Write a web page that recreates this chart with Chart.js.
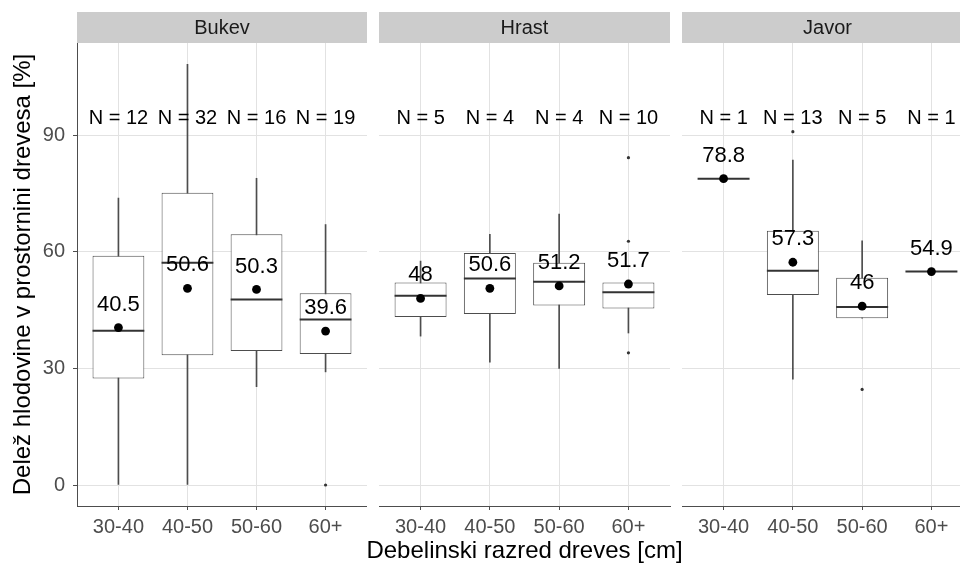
<!DOCTYPE html>
<html>
<head>
<meta charset="utf-8">
<script src="https://cdn.jsdelivr.net/npm/chart.js@4.4.1/dist/chart.umd.min.js"></script>
<style>
  html, body { margin: 0; padding: 0; background: #fff; overflow: hidden; }
  #wrap { position: relative; width: 960px; height: 564px; overflow: hidden; }
  #wrap canvas { position: absolute; top: 0; }
</style>
</head>
<body>
<div id="wrap">
  <canvas id="c1" width="367" height="564" style="left:0px"></canvas>
  <canvas id="c2" width="331" height="564" style="left:359px"></canvas>
  <canvas id="c3" width="291" height="564" style="left:682px"></canvas>
</div>
<script>
const categories = ['30-40', '40-50', '50-60', '60+'];
const yTicks = [0, 30, 60, 90];
const nLabelValue = 94.5;

// Bukev
const bukevN = [12, 32, 16, 19];
const bukevLow = [0, 0, 25.3, 29.1];
const bukevQ1 = [27.4, 33.4, 34.5, 33.7];
const bukevMedian = [39.7, 57.2, 47.7, 42.6];
const bukevQ3 = [59.0, 75.2, 64.5, 49.3];
const bukevHigh = [73.8, 108.2, 78.9, 67.0];
const bukevMean = [40.5, 50.6, 50.3, 39.6];
const bukevOutliers = [[], [], [], [0]];

// Hrast
const hrastN = [5, 4, 4, 10];
const hrastLow = [38.3, 31.6, 30.0, 39.1];
const hrastQ1 = [43.2, 44.0, 46.2, 45.4];
const hrastMedian = [48.7, 53.1, 52.3, 49.6];
const hrastQ3 = [52.1, 59.7, 57.2, 52.1];
const hrastHigh = [57.6, 64.5, 69.7, 52.1];
const hrastMean = [48, 50.6, 51.2, 51.7];
const hrastOutliers = [[], [], [], [84.2, 62.7, 34.0]];

// Javor
const javorN = [1, 13, 5, 1];
const javorLow = [78.8, 27.2, 42.9, 54.9];
const javorQ1 = [78.8, 48.9, 42.9, 54.9];
const javorMedian = [78.8, 55.1, 45.8, 54.9];
const javorQ3 = [78.8, 65.4, 53.3, 54.9];
const javorHigh = [78.8, 83.6, 62.8, 54.9];
const javorMean = [78.8, 57.3, 46, 54.9];
const javorOutliers = [[], [90.9], [24.6], []];

const FONT = '"Liberation Sans", Arial, Helvetica, sans-serif';
const AXIS = '#4d4d4d';
const GRID = '#e2e2e2';
const LINE = '#4d4d4d';

function facetPlugin(name, n, mean, xTitle) {
  return {
    id: 'facet',
    beforeDraw(chart) {
      const {ctx, chartArea: a} = chart;
      ctx.save();
      ctx.fillStyle = '#cccccc';
      ctx.fillRect(a.left, a.top - 31, a.right - a.left, 31);
      ctx.fillStyle = '#1a1a1a';
      ctx.font = '20px ' + FONT;
      ctx.textAlign = 'center';
      ctx.textBaseline = 'middle';
      ctx.fillText(name, (a.left + a.right) / 2, a.top - 15);
      ctx.restore();
    },
    afterDatasetsDraw(chart) {
      const {ctx, chartArea: a} = chart;
      const x = chart.scales.x, y = chart.scales.y;
      ctx.save();
      ctx.fillStyle = '#000';
      ctx.textAlign = 'center';
      ctx.textBaseline = 'middle';
      ctx.font = '20px ' + FONT;
      n.forEach((v, i) => ctx.fillText('N = ' + v, x.getPixelForValue(i), y.getPixelForValue(nLabelValue) + 1));
      ctx.font = '22px ' + FONT;
      mean.forEach((v, i) => ctx.fillText(String(v), x.getPixelForValue(i), y.getPixelForValue(v) - 23));
      if (xTitle) {
        ctx.font = '24px ' + FONT;
        ctx.fillText(xTitle, (a.left + a.right) / 2, 551);
      }
      ctx.restore();
    }
  };
}

function panel(id, name, n, low, q1, median, q3, high, mean, outliers, first, xTitle, padL, padR) {
  const outlierPts = [];
  outliers.forEach((list, i) => list.forEach(v => outlierPts.push({x: i, y: v})));
  new Chart(document.getElementById(id), {
    type: 'bar',
    data: {
      datasets: [
        {
          label: 'whisker',
          data: categories.map((c, i) => ({x: i, y: [low[i], high[i]]})),
          backgroundColor: LINE,
          barThickness: 1,
          grouped: false,
          order: 3
        },
        {
          label: 'box',
          data: categories.map((c, i) => ({x: i, y: [q1[i], q3[i]]})),
          backgroundColor: '#ffffff',
          borderColor: LINE,
          borderWidth: 1,
          borderSkipped: false,
          barPercentage: 0.75,
          categoryPercentage: 1,
          grouped: false,
          order: 2
        },
        {
          type: 'scatter',
          label: 'median',
          data: categories.map((c, i) => ({x: i, y: median[i]})),
          pointStyle: 'line',
          pointRadius: ctx => {
            const s = ctx.chart.scales.x;
            return (s.getPixelForValue(1) - s.getPixelForValue(0)) * 0.375;
          },
          borderColor: '#333333',
          pointBorderWidth: 2,
          order: 1
        },
        {
          type: 'scatter',
          label: 'outliers',
          data: outlierPts,
          pointRadius: 1.6,
          pointBorderWidth: 0,
          backgroundColor: '#333333',
          order: 1
        },
        {
          type: 'scatter',
          label: 'mean',
          data: categories.map((c, i) => ({x: i, y: mean[i]})),
          pointRadius: 4.4,
          pointBorderWidth: 0,
          backgroundColor: '#000000',
          order: 0
        }
      ]
    },
    options: {
      responsive: false,
      animation: false,
      layout: { autoPadding: false, padding: { top: 43, left: padL, right: padR, bottom: 0 } },
      plugins: { legend: { display: false }, tooltip: { enabled: false } },
      scales: {
        x: {
          type: 'linear',
          min: -0.6,
          max: 3.6,
          offset: false,
          afterBuildTicks: s => { s.ticks = categories.map((c, i) => ({value: i})); },
          afterFit: s => { s.height = 58; s.paddingLeft = 0; s.paddingRight = 0; },
          ticks: {
            callback: v => categories[v],
            color: AXIS,
            font: { family: FONT, size: 20 },
            padding: 5,
            maxRotation: 0,
            autoSkip: false
          },
          grid: { color: GRID, tickColor: AXIS, tickLength: 4, offset: false },
          border: { display: true, color: AXIS, width: 1 }
        },
        y: {
          type: 'linear',
          min: -5.4,
          max: 113.7,
          afterBuildTicks: s => { s.ticks = yTicks.map(v => ({value: v})); },
          afterFit: s => { s.width = first ? 77 : 0; s.paddingTop = 0; s.paddingBottom = 0; },
          ticks: {
            display: first,
            color: AXIS,
            font: { family: FONT, size: 20 },
            padding: 8
          },
          grid: { color: GRID, tickColor: AXIS, tickLength: 4, drawTicks: first },
          border: { display: first, color: AXIS, width: 1 },
          title: {
            display: first,
            text: 'Delež hlodovine v prostornini drevesa [%]',
            color: '#000',
            font: { family: FONT, size: 24 },
            padding: { top: 9, bottom: 0 }
          }
        }
      }
    },
    plugins: [facetPlugin(name, n, mean, xTitle)]
  });
}

panel('c1', 'Bukev', bukevN, bukevLow, bukevQ1, bukevMedian, bukevQ3, bukevHigh, bukevMean, bukevOutliers, true, null, 0, 0);
panel('c2', 'Hrast', hrastN, hrastLow, hrastQ1, hrastMedian, hrastQ3, hrastHigh, hrastMean, hrastOutliers, false,
      'Debelinski razred dreves [cm]', 20, 20);
panel('c3', 'Javor', javorN, javorLow, javorQ1, javorMedian, javorQ3, javorHigh, javorMean, javorOutliers, false, null, 0, 0);
</script>
</body>
</html>
